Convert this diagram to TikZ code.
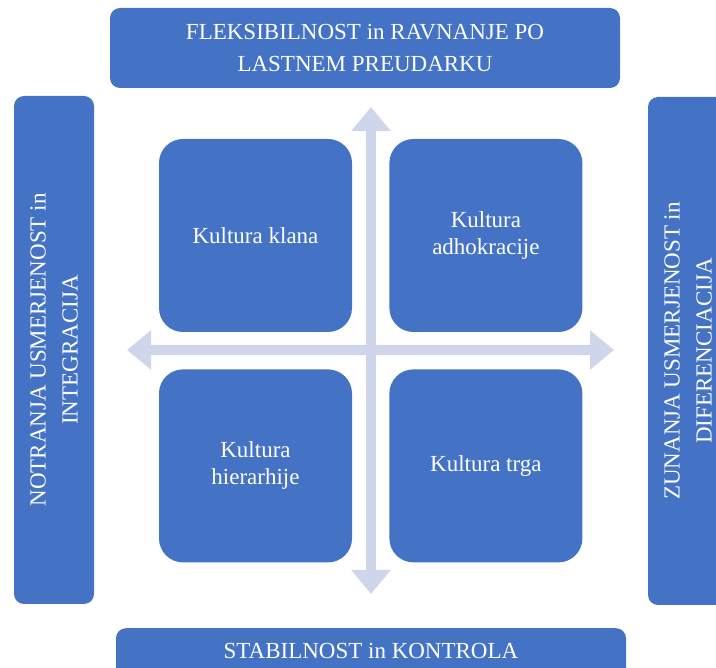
\documentclass[tikz,border=0pt]{standalone}
\usepackage{fontspec}
\setmainfont{Liberation Serif}
\usetikzlibrary{arrows.meta, positioning}
\definecolor{cultureblue}{HTML}{4472C4}
\definecolor{axislight}{HTML}{CFD5EA}

\begin{document}
\begin{tikzpicture}[x=1pt, y=-1pt,
  side/.style={rectangle, fill=cultureblue, rounded corners=10pt, text=white, align=center, inner sep=0pt, font=\fontsize{23}{32}\selectfont},
  quadrant/.style={rectangle, fill=cultureblue, rounded corners=24pt, text=white, align=center, minimum width=193pt, minimum height=193pt, inner sep=0pt, font=\fontsize{23}{27}\selectfont},
  axis/.style={{Triangle[width=38pt, length=24pt]}-{Triangle[width=38pt, length=24pt]}, line width=10pt, draw=axislight}
]
  \useasboundingbox (0,0) rectangle (716,668);
  \clip (0,0) rectangle (716,668);

  % axes
  \coordinate (ntip) at (371,107);
  \coordinate (stip) at (371,594);
  \coordinate (wtip) at (127,350);
  \coordinate (etip) at (614,350);
  \draw[axis] (stip) -- (ntip);
  \draw[axis] (wtip) -- (etip);

  % four cultures
  \node[quadrant] (klan) at (255.5,235.5) {Kultura klana};
  \node[quadrant, right=37pt of klan] (adho) {Kultura\\adhokracije};
  \node[quadrant, below=37pt of klan] (hier) {Kultura\\hierarhije};
  \node[quadrant, right=37pt of hier] (trg) {Kultura trga};

  % dimensions
  \node[side, minimum width=510pt, minimum height=80pt] (flex) at (365,48) {FLEKSIBILNOST in RAVNANJE PO\\LASTNEM PREUDARKU};
  \node[side, anchor=north, minimum width=510pt, text height=30pt, text depth=52pt] (stab) at (371,628) {STABILNOST in KONTROLA};
  \node[side, rotate=90, minimum width=508pt, minimum height=80pt] (intern) at (54,350) {NOTRANJA USMERJENOST in\\INTEGRACIJA};
  \node[side, rotate=90, minimum width=508pt, minimum height=80pt] (extern) at (688,351) {ZUNANJA USMERJENOST in\\DIFERENCIACIJA};
\end{tikzpicture}
\end{document}
